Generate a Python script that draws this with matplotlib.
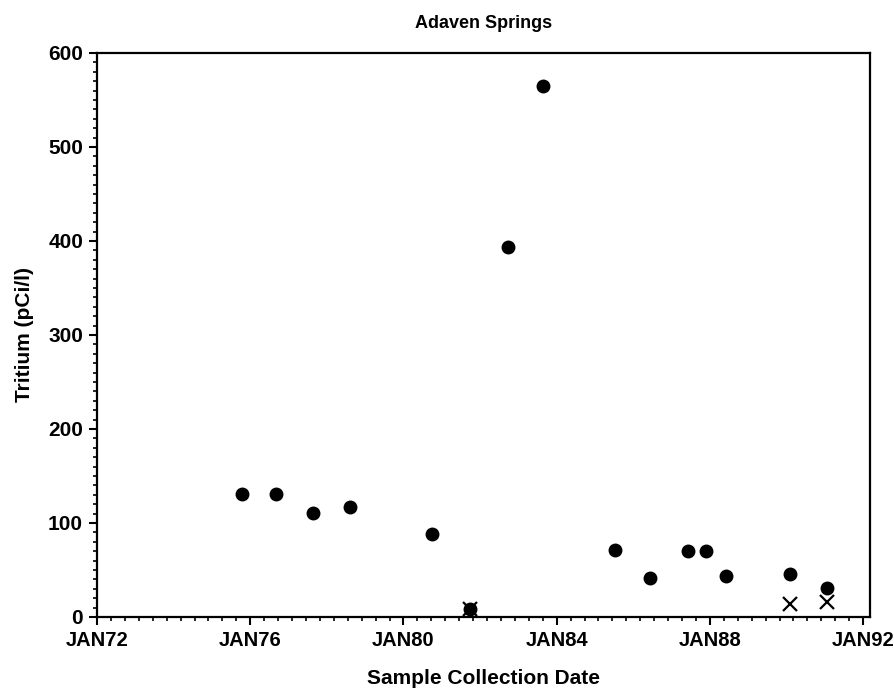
import numpy as np
import matplotlib.pyplot as plt
from matplotlib.ticker import MultipleLocator, FixedLocator

plt.rcParams['font.family'] = ['Liberation Sans', 'DejaVu Sans']

# measured values (decimal year of sample, tritium pCi/l)
dot_year = [1975.79, 1976.67, 1977.64, 1978.61, 1980.75, 1981.74, 1982.73, 1983.65,
            1985.52, 1986.44, 1987.43, 1987.90, 1988.42, 1990.09, 1991.06]
dot_value = [131, 131, 111, 117, 88, 8, 394, 565, 71, 41, 70, 70, 44, 46, 31]

cross_year = [1981.74, 1990.09, 1991.06]
cross_value = [8, 14, 16]

tick_years = [1972, 1976, 1980, 1984, 1988, 1992]
tick_labels = ['JAN72', 'JAN76', 'JAN80', 'JAN84', 'JAN88', 'JAN92']

fig = plt.figure(figsize=(8.94, 6.98), dpi=100)
ax = fig.add_axes([97 / 894, 81 / 698, 773 / 894, 564 / 698])

ax.plot(dot_year, dot_value, 'o', color='black', markersize=9, linestyle='none')
ax.plot(cross_year, cross_value, 'x', color='black', markersize=10, markeredgewidth=1.6,
        linestyle='none')

ax.set_xlim(1972.0, 1992.18)
ax.set_ylim(0, 600)

ax.set_xticks(tick_years)
ax.set_xticklabels(tick_labels)
minor_x = np.arange(1972, 1992.01, 4 / 11)
ax.xaxis.set_minor_locator(FixedLocator(minor_x))
ax.yaxis.set_major_locator(MultipleLocator(100))
ax.yaxis.set_minor_locator(MultipleLocator(10))

ax.tick_params(which='major', length=6, width=1.5, labelsize=15, direction='out', pad=4)
ax.tick_params(axis='x', which='major', labelsize=14.5)
ax.tick_params(which='minor', length=3, width=1.2, direction='out')
for lab in ax.get_xticklabels() + ax.get_yticklabels():
    lab.set_fontweight('bold')
for s in ax.spines.values():
    s.set_linewidth(1.6)

ax.set_title('Adaven Springs', fontsize=13, fontweight='bold', pad=18)
ax.set_xlabel('Sample Collection Date', fontsize=15, fontweight='bold', labelpad=14)
ax.set_ylabel('Tritium (pCi/l)', fontsize=15, fontweight='bold', labelpad=10)

fig.savefig('out.png', dpi=100)
